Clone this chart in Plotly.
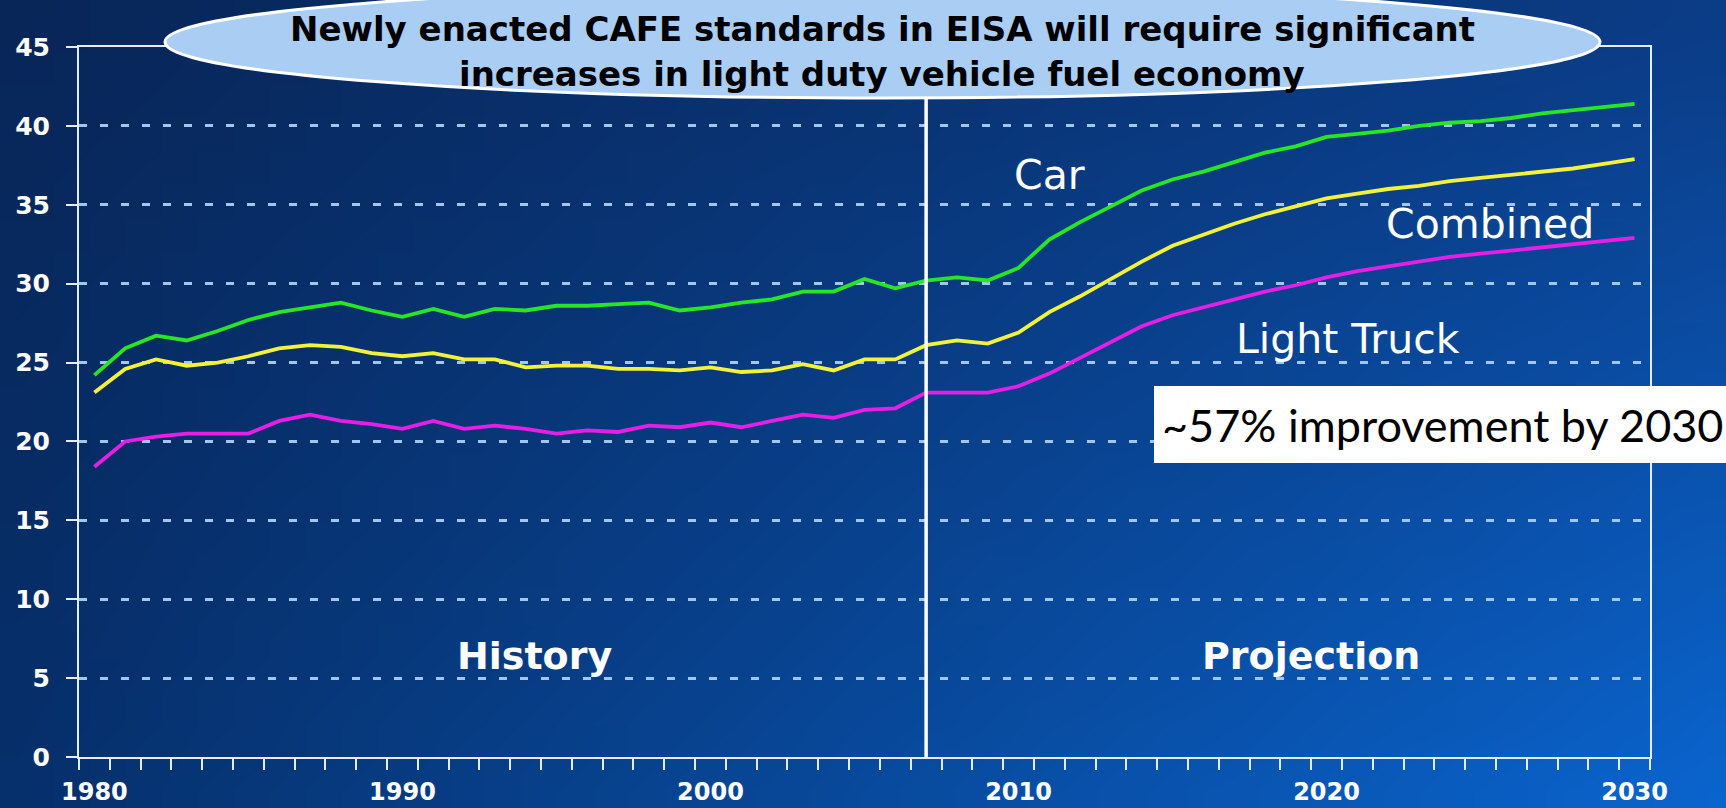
import zlib, struct, base64
import plotly.graph_objects as go

# ---------------- data ----------------
YEARS = list(range(1980, 2031))
CAR = [24.2, 25.9, 26.7, 26.4, 27.0, 27.7, 28.2, 28.5, 28.8, 28.3,
       27.9, 28.4, 27.9, 28.4, 28.3, 28.6, 28.6, 28.7, 28.8, 28.3,
       28.5, 28.8, 29.0, 29.5, 29.5, 30.3, 29.7, 30.2, 30.4, 30.2,
       31.0, 32.8, 33.9, 34.9, 35.9, 36.6, 37.1, 37.7, 38.3, 38.7,
       39.3, 39.5, 39.7, 40.0, 40.2, 40.3, 40.5, 40.8, 41.0, 41.2, 41.4]
COMBINED = [23.1, 24.6, 25.2, 24.8, 25.0, 25.4, 25.9, 26.1, 26.0, 25.6,
            25.4, 25.6, 25.2, 25.2, 24.7, 24.8, 24.8, 24.6, 24.6, 24.5,
            24.7, 24.4, 24.5, 24.9, 24.5, 25.2, 25.2, 26.1, 26.4, 26.2,
            26.9, 28.2, 29.2, 30.3, 31.4, 32.4, 33.1, 33.8, 34.4, 34.9,
            35.4, 35.7, 36.0, 36.2, 36.5, 36.7, 36.9, 37.1, 37.3, 37.6, 37.9]
TRUCK = [18.4, 20.0, 20.3, 20.5, 20.5, 20.5, 21.3, 21.7, 21.3, 21.1,
         20.8, 21.3, 20.8, 21.0, 20.8, 20.5, 20.7, 20.6, 21.0, 20.9,
         21.2, 20.9, 21.3, 21.7, 21.5, 22.0, 22.1, 23.1, 23.1, 23.1,
         23.5, 24.3, 25.3, 26.3, 27.3, 28.0, 28.5, 29.0, 29.5, 29.9,
         30.4, 30.8, 31.1, 31.4, 31.7, 31.9, 32.1, 32.3, 32.5, 32.7, 32.9]
X_LABEL_YEARS = [1980, 1990, 2000, 2010, 2020, 2030]
Y_TICKS = [0, 5, 10, 15, 20, 25, 30, 35, 40, 45]
PROJECTION_START = 2007
TITLE_LINES = ["Newly enacted CAFE standards in EISA will require significant",
               "increases in light duty vehicle fuel economy"]
CALLOUT = "~57% improvement by 2030"

# ---------------- geometry ----------------
W, H = 1726, 808
ML, MR, MT, MB = 79, 76, 47, 51
PW, PH = W - ML - MR, H - MT - MB


def px(x):
    return (x - ML) / PW


def py(y):
    return (H - MB - y) / PH


# ---------------- background gradient ----------------
def make_png(w, h, fn):
    raw = b''
    for j in range(h):
        row = bytearray([0])
        for i in range(w):
            row += bytes(fn(i / (w - 1), j / (h - 1)))
        raw += bytes(row)

    def chunk(t, d):
        c = struct.pack('>I', len(d)) + t + d
        return c + struct.pack('>I', zlib.crc32(t + d) & 0xffffffff)
    png = (b'\x89PNG\r\n\x1a\n' +
           chunk(b'IHDR', struct.pack('>IIBBBBB', w, h, 8, 2, 0, 0, 0)) +
           chunk(b'IDAT', zlib.compress(raw)) + chunk(b'IEND', b''))
    return 'data:image/png;base64,' + base64.b64encode(png).decode()


TL, TR, BL, BR = (8, 38, 88), (11, 60, 134), (6, 48, 108), (10, 100, 205)


def grad(u, v):
    return tuple(int(round((1 - u) * (1 - v) * a + u * (1 - v) * b + (1 - u) * v * c + u * v * d))
                 for a, b, c, d in zip(TL, TR, BL, BR))


bg = make_png(48, 24, grad)

fig = go.Figure()
for name, vals, col in [("Car", CAR, "#26e626"), ("Combined", COMBINED, "#f2f23a"),
                        ("Light Truck", TRUCK, "#e61ee6")]:
    fig.add_trace(go.Scatter(x=YEARS, y=vals, mode="lines", name=name,
                             line=dict(color=col, width=3.8), showlegend=False))

axis_col = "#e4eefa"
grid_col = "#a3c6ee"
fig.update_layout(
    width=W, height=H, template="none",
    margin=dict(l=ML, r=MR, t=MT, b=MB, pad=0),
    paper_bgcolor="#0a3a80", plot_bgcolor="rgba(0,0,0,0)",
    showlegend=False,
    xaxis=dict(range=[YEARS[0] - 0.5, YEARS[-1] + 0.5], tickmode="array",
               tickvals=X_LABEL_YEARS, ticktext=[str(v) for v in X_LABEL_YEARS],
               ticks="outside", ticklen=1, tickcolor="rgba(0,0,0,0)",
               ticklabelstandoff=11,
               tickfont=dict(family="DejaVu Sans", size=24, color="white", weight="bold"),
               showline=True, linecolor=axis_col, linewidth=2, mirror=True,
               showgrid=False, zeroline=False, automargin=False,
               minor=dict(tickmode="array",
                          tickvals=[y - 0.5 for y in YEARS] + [YEARS[-1] + 0.5],
                          ticks="outside", ticklen=11, tickwidth=2, tickcolor=axis_col,
                          showgrid=False)),
    yaxis=dict(range=[0, 45], tickmode="array", tickvals=Y_TICKS,
               ticks="outside", ticklen=11, tickwidth=2, tickcolor=axis_col,
               ticklabelstandoff=11,
               tickfont=dict(family="DejaVu Sans", size=25, color="white", weight="bold"),
               showline=True, linecolor=axis_col, linewidth=2, mirror=True,
               showgrid=True, gridcolor=grid_col, gridwidth=2.5, griddash="8px,13px",
               zeroline=False, automargin=False),
    images=[dict(source=bg, xref="paper", yref="paper", x=px(0), y=py(0),
                 sizex=W / PW, sizey=H / PH, sizing="stretch", layer="below",
                 xanchor="left", yanchor="top")],
)

# divider between history and projection
fig.add_shape(type="line", xref="x", yref="y", x0=PROJECTION_START, x1=PROJECTION_START,
              y0=0, y1=45, line=dict(color="white", width=3.5), layer="above")
# title ellipse
fig.add_shape(type="circle", xref="paper", yref="paper",
              x0=px(165), x1=px(1600), y0=py(-14), y1=py(98),
              fillcolor="#a9cdf3", line=dict(color="white", width=3), layer="above")
# callout box
fig.add_shape(type="rect", xref="paper", yref="paper",
              x0=px(1154), x1=px(1740), y0=py(386), y1=py(463),
              fillcolor="white", line=dict(width=0), layer="above")

for txt, ycen in zip(TITLE_LINES, [29, 74]):
    fig.add_annotation(text=txt, xref="paper", yref="paper", x=px(882), y=py(ycen),
                       xanchor="center", yanchor="middle", showarrow=False,
                       font=dict(family="DejaVu Sans", size=34, color="black", weight="bold"))

labels = [("Car", 2011.0, 36.9, False), ("Combined", 2025.3, 33.8, False),
          ("Light Truck", 2020.7, 26.5, False), ("History", 1994.3, 6.4, True),
          ("Projection", 2019.5, 6.4, True)]
for txt, xv, yv, bold in labels:
    fig.add_annotation(text=txt, x=xv, y=yv, xref="x", yref="y", showarrow=False,
                       xanchor="center", yanchor="middle",
                       font=dict(family="DejaVu Sans", size=38 if bold else 41, color="white",
                                 weight="bold" if bold else "normal"))

fig.add_annotation(text=CALLOUT, xref="paper", yref="paper", x=px(1442), y=py(425),
                   xanchor="center", yanchor="middle", showarrow=False,
                   font=dict(family="Lato", size=45, color="black"))

fig.write_html("out.html", config={"displayModeBar": False},
               post_script="document.body.style.margin='0';")
